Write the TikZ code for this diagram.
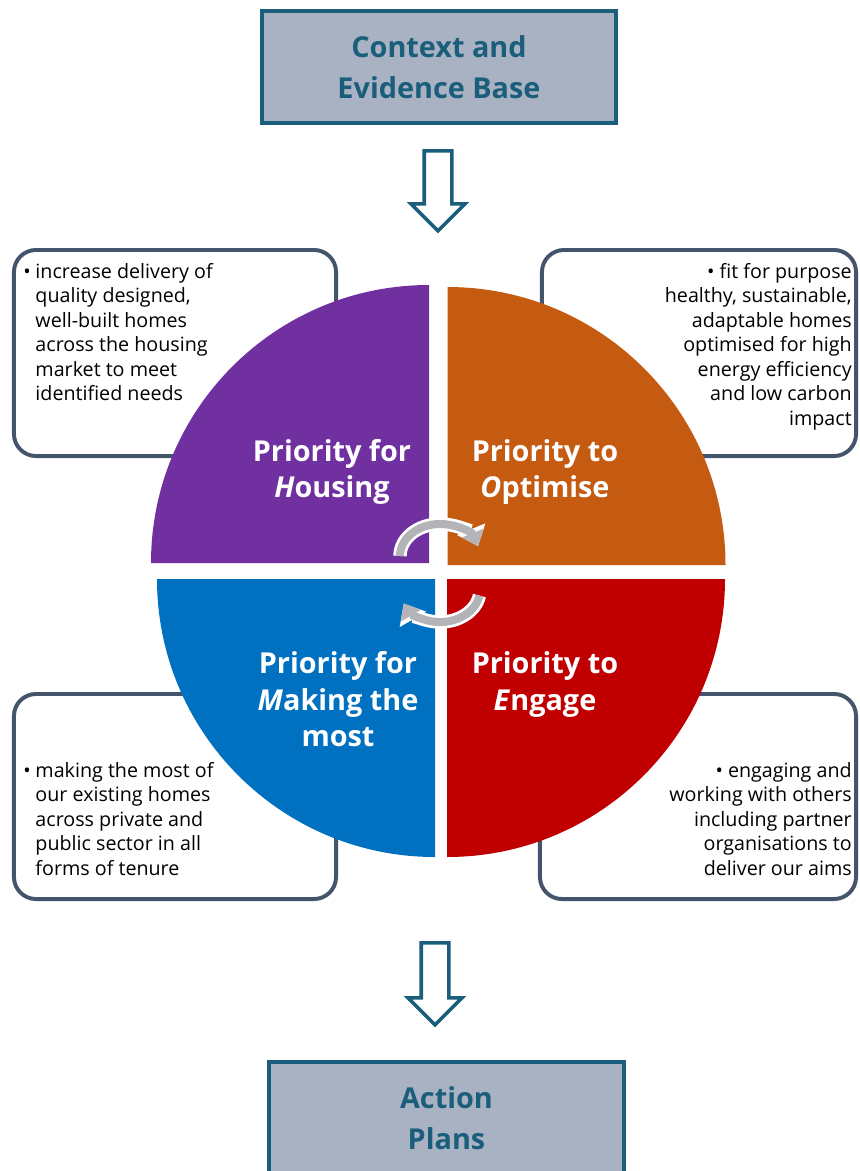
\documentclass[tikz,border=0pt]{standalone}
\usepackage{fontspec}
\setmainfont{Open Sans}
\usetikzlibrary{positioning,calc,shapes.arrows,arrows.meta}
\definecolor{planteal}{HTML}{1B5E7B}
\definecolor{planfill}{HTML}{A9B2C3}
\definecolor{noteedge}{HTML}{44546A}
\definecolor{housing}{HTML}{7030A0}
\definecolor{optimise}{HTML}{C55A11}
\definecolor{making}{HTML}{0070C0}
\definecolor{engage}{HTML}{C00000}
\definecolor{cyclegray}{HTML}{B4B4B8}
\newcommand{\bitem}{\makebox[0.62em][l]{\textbullet}}
\newcommand{\bind}{\hspace*{0.62em}}

\begin{document}
\begin{tikzpicture}
[x=0.025cm, y=0.025cm,
planbox/.style={draw=planteal, fill=planfill, line width=2.8pt, minimum width=8.85cm,
  inner sep=0pt, text=planteal, align=center,
  font=\fontsize{20.5}{29}\selectfont\bfseries},
notebox/.style={draw=noteedge, fill=white, line width=2.8pt, rounded corners=0.55cm,
  inner sep=0pt},
notetext/.style={inner sep=0pt, font=\fontsize{14}{17.4}\selectfont},
quadlabel/.style={text=white, align=center, font=\fontsize{20.5}{26}\selectfont\bfseries},
flowarrow/.style={single arrow, draw=planteal, fill=white, line width=2.5pt, rotate=-90,
  inner xsep=0pt, inner ysep=0.3cm, minimum width=1.25cm, single arrow head extend=0.33cm},
cycleedge/.style={white, line width=9.5pt, -{Triangle[length=13pt, width=21pt]}},
cyclearc/.style={cyclegray, line width=5.7pt, -{Triangle[length=10pt, width=16pt]}}]
\path[use as bounding box, clip] (0,0) rectangle (860,-1171);

\node (ctx) at (439,-67) [planbox, minimum height=2.8cm] {Context and\\Evidence Base};
\node (downA) at (438,-184) [flowarrow, minimum height=2.0cm] {};

\node (hnote) at (175,-353) [notebox, minimum width=8.05cm, minimum height=5.15cm] {};
\node (onote) at (699,-353) [notebox, minimum width=7.85cm, minimum height=5.15cm] {};
\node (mnote) at (175,-796.5) [notebox, minimum width=8.05cm, minimum height=5.125cm] {};
\node (enote) at (698,-796.5) [notebox, minimum width=7.9cm, minimum height=5.125cm] {};

\node (htext) at ([shift={(11,-15)}]hnote.north west) [notetext, anchor=north west, align=left]
  {\bitem increase delivery of\\ \bind quality designed,\\ \bind well-built homes\\
   \bind across the housing\\ \bind market to meet\\ \bind identified needs};
\node (otext) at ([shift={(-6,-15)}]onote.north east) [notetext, anchor=north east, align=right]
  {\textbullet\ fit for purpose\\ healthy, sustainable,\\ adaptable homes\\
   optimised for high\\ energy efficiency\\ and low carbon\\ impact};
\node (mtext) at ([shift={(11,-70)}]mnote.north west) [notetext, anchor=north west, align=left]
  {\bitem making the most of\\ \bind our existing homes\\ \bind across private and\\
   \bind public sector in all\\ \bind forms of tenure};
\node (etext) at ([shift={(-6,-70)}]enote.north east) [notetext, anchor=north east, align=right]
  {\textbullet\ engaging and\\ working with others\\ including partner\\
   organisations to\\ deliver our aims};

\fill[housing] (429,-563) -- (151,-563) arc[start angle=180, end angle=90, radius=278] -- cycle;
\fill[optimise] (447.5,-565) -- (447.5,-287) arc[start angle=90, end angle=0, radius=278] -- cycle;
\fill[making] (435,-579) -- (157,-579) arc[start angle=180, end angle=270, radius=278] -- cycle;
\fill[engage] (447,-579) -- (725,-579) arc[start angle=0, end angle=-90, radius=278] -- cycle;

\node (lblH) at (332,-472) [quadlabel] {Priority for\\\textit{H}ousing};
\node (lblO) at (545,-472) [quadlabel] {Priority to\\\textit{O}ptimise};
\node (lblM) at (338,-699.5) [quadlabel] {Priority for\\\textit{M}aking the\\most};
\node (lblE) at (545,-684.5) [quadlabel] {Priority to\\\textit{E}ngage};

\draw[cycleedge] (400,-556) arc[start angle=180, end angle=18, x radius=40, y radius=32];
\draw[cyclearc] (400,-556) arc[start angle=180, end angle=18, x radius=40, y radius=32];
\draw[cycleedge] (479.4,-595.6) arc[start angle=-10, end angle=-155, x radius=40, y radius=32];
\draw[cyclearc] (479.4,-595.6) arc[start angle=-10, end angle=-155, x radius=40, y radius=32];

\node (downB) at (435,-977) [flowarrow, minimum height=2.05cm] {};
\node (plans) at (446.5,-1118) [planbox, minimum height=2.8cm, minimum width=8.85cm] {Action\\Plans};
\end{tikzpicture}
\end{document}
